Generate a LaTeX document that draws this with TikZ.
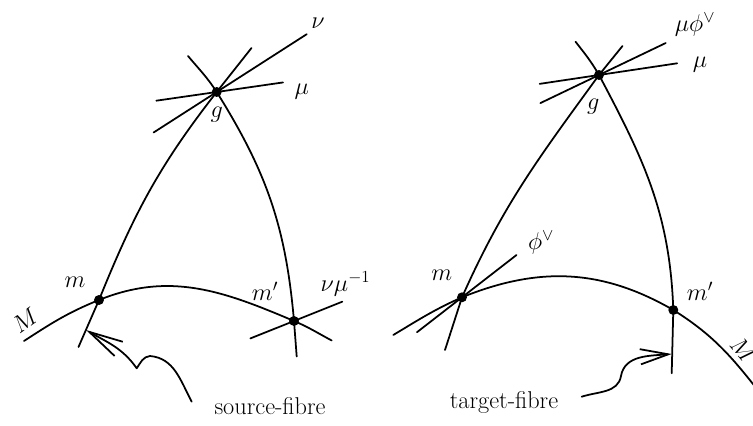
\documentclass[tikz,border=0pt]{standalone}
\usepackage{amsmath,amssymb}
\usetikzlibrary{arrows.meta,calc}

\begin{document}
\begin{tikzpicture}[
  x=0.03cm, y=0.03cm,
  pt/.style={circle,fill=black,inner sep=0pt,minimum size=8.5pt},
  lbl/.style={font=\huge,inner sep=1pt},
  curve/.style={line width=1.5pt},
  longtip/.style={-{Straight Barb[length=29pt,width=14pt]}},
  shorttip/.style={-{Straight Barb[length=24pt,width=13pt]}},
  line cap=round, line join=round
]
\useasboundingbox (0,0) rectangle (753,426);

% Source side: points and curve ends
\coordinate (gS)  at (216.7,334);
\coordinate (mS)  at (99,126);
\coordinate (mpS) at (294,105);
\coordinate (aS) at (78.5,79);    \coordinate (bS) at (251.5,378);
\coordinate (cS) at (188,370);    \coordinate (dS) at (296.7,69.5);
\coordinate (eS) at (24,85);      \coordinate (fS) at (331.7,85.5);

% Target side: points and curve ends
\coordinate (gT)  at (599,351);
\coordinate (mT)  at (462,128.7);
\coordinate (mpT) at (673.3,116);
\coordinate (aT) at (445,76);     \coordinate (bT) at (622.5,380);
\coordinate (cT) at (575.5,384.3);\coordinate (dT) at (671.7,52.7);
\coordinate (eT) at (393.3,91);   \coordinate (fT) at (764,28);

% Fibres and the manifold M
\draw[curve] (aS) -- (mS) to[out=68,in=232] (gS) -- (bS);
\draw[curve] (cS) to[out=-50,in=123] (gS) to[out=-58,in=95] (mpS) -- (dS);
\draw[curve] (eS) to[out=33,in=202] (mS) to[out=22,in=157] (mpS) to[out=-23,in=152] (fS);

\draw[curve] (aT) -- (mT) to[out=66,in=234] (gT) -- (bT);
\draw[curve] (cT) to[out=-52,in=120] (gT) to[out=-62,in=92] (mpT) -- (dT);
\draw[curve] (eT) to[out=31,in=204] (mT) to[out=22,in=150] (mpT) to[out=-32,in=128] (fT);

% Bisections through the points: point/angle/forward/backward
\foreach \p/\a/\f/\b in {gS/8.2/67/61, gS/32.7/107/75, mpS/21.8/52/47,
                         gT/8.5/79/60, gT/25.6/74/65, mT/37.8/69/57}{
  \draw[curve] ($(\p)+(\a:\f)$) -- ($(\p)+(\a+180:\b)$);
}

\foreach \p in {gS,mS,mpS,gT,mT,mpT}{
  \node[pt] (\p-dot) at (\p) {};
}

% Labels
\node[lbl,rotate=35] (MS) at (25,106) {$M$};
\node[lbl] (mSl)  at (75,143.5)  {$m$};
\node[lbl] (mpSl) at (265,134.5) {$m'$};
\node[lbl] (nmS)  at (345.5,142) {$\nu\mu^{-1}$};
\node[lbl] (gSl)  at (216.7,311) {$g$};
\node[lbl] (muS)  at (301.7,334) {$\mu$};
\node[lbl] (nuS)  at (318,403)   {$\nu$};
\node[lbl,anchor=base] (srcLbl) at (270,11) {source-fibre};

\node[lbl,rotate=-50] (MT) at (743.3,76) {$M$};
\node[lbl] (mTl)  at (441.7,151) {$m$};
\node[lbl] (mpTl) at (700,134.3) {$m'$};
\node[lbl] (phT)  at (541,183)   {$\phi^\vee$};
\node[lbl] (gTl)  at (593.3,319.3) {$g$};
\node[lbl] (muT)  at (700,361)   {$\mu$};
\node[lbl] (mpT2) at (695,401)   {$\mu\phi^\vee$};
\node[lbl,anchor=base] (tgtLbl) at (504,17.7) {target-fibre};

% Pointers to the fibres
\coordinate (srcTail) at (191.7,24.3);
\coordinate (srcTip)  at (86,96);
\draw[curve,longtip] (srcTail) to[out=118,in=-5] (150,70)
  to[out=185,in=55] (136.7,57.7) to[out=125,in=-30] (srcTip);

\coordinate (tgtTail) at (581.7,29.3);
\coordinate (tgtTip)  at (671.7,72);
\draw[curve,shorttip] (tgtTail) to[out=18,in=-100] (621,50)
  to[out=80,in=185] (tgtTip);
\end{tikzpicture}
\end{document}
